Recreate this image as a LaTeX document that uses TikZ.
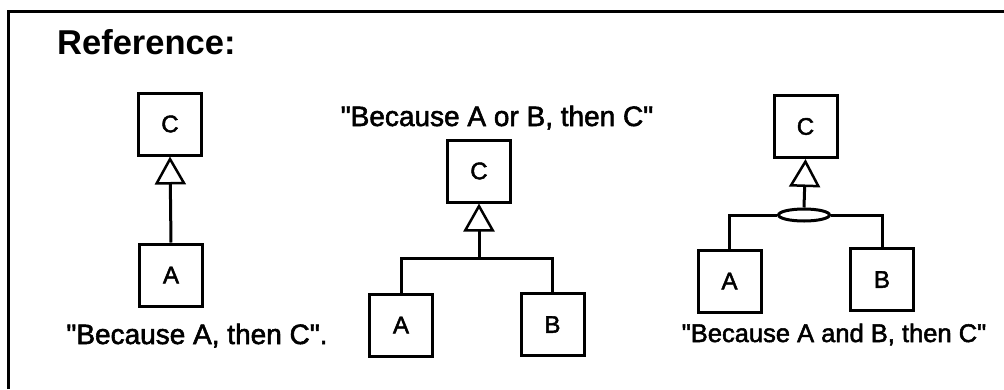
\documentclass[tikz,border=0pt]{standalone}
\usepackage{fontspec}
\newfontfamily\arialish{Liberation Sans}
\newfontfamily\arialishbold[FakeBold=2]{Liberation Sans}
\usetikzlibrary{arrows.meta,shapes.geometric}
\begin{document}
\begin{tikzpicture}[x=1pt,y=-1pt,
  box/.style={draw,line width=3pt,minimum width=63pt,minimum height=62pt,inner sep=0pt,font=\arialishbold\fontsize{24}{28}\selectfont},
  link/.style={line width=3pt},
  tri/.style={link,-{Triangle[open,length=28pt,width=31pt,line width=2.5pt]}},
  lbl/.style={inner sep=0pt,anchor=base,font=\arialishbold\fontsize{28}{32}\selectfont},
  andop/.style={draw,ellipse,line width=3pt,minimum width=51pt,minimum height=12pt,inner sep=0pt}]
\useasboundingbox (0,0) rectangle (1004,389);
\fill[white] (0,0) rectangle (1004,389);
% frame
\draw[line width=3pt] (8,389) coordinate (fl) -- (8,11.5) coordinate (fc) -- (1004,11.5) coordinate (fr);
\node[anchor=base west,inner sep=0pt,font=\arialish\bfseries\fontsize{34.5}{40}\selectfont] (ref) at (57,54) {Reference:};
% diagram 1
\node[box] (c1) at (170,124) {C};
\node[box] (a1) at (171,275) {A};
\draw[tri] (a1.north) -- (c1.south);
\node[lbl] (l1) at (197,344) {"Because A, then C".};
% diagram 2
\node[lbl] (l2) at (497,126) {"Because A or B, then C"};
\node[box] (c2) at (479,171) {C};
\node[box] (a2) at (401,325) {A};
\node[box] (b2) at (552.5,324.5) {B};
\coordinate (j2) at (479,258);
\draw[link] (a2.north) |- (j2) -| (b2.north);
\draw[tri] (j2) -- (c2.south);
% diagram 3
\node[box] (c3) at (805.5,126.5) {C};
\node[box] (a3) at (729.5,281) {A};
\node[box] (b3) at (882,279.5) {B};
\node[andop] (and) at (804,215) {};
\draw[link] (a3.north) |- (and.west);
\draw[link] (b3.north) |- (and.east);
\draw[tri] (and.north) -- (c3.south);
\node[lbl,font=\arialishbold\fontsize{25.5}{30}\selectfont] (l3) at (834,342) {"Because A and B, then C"};
\end{tikzpicture}
\end{document}
